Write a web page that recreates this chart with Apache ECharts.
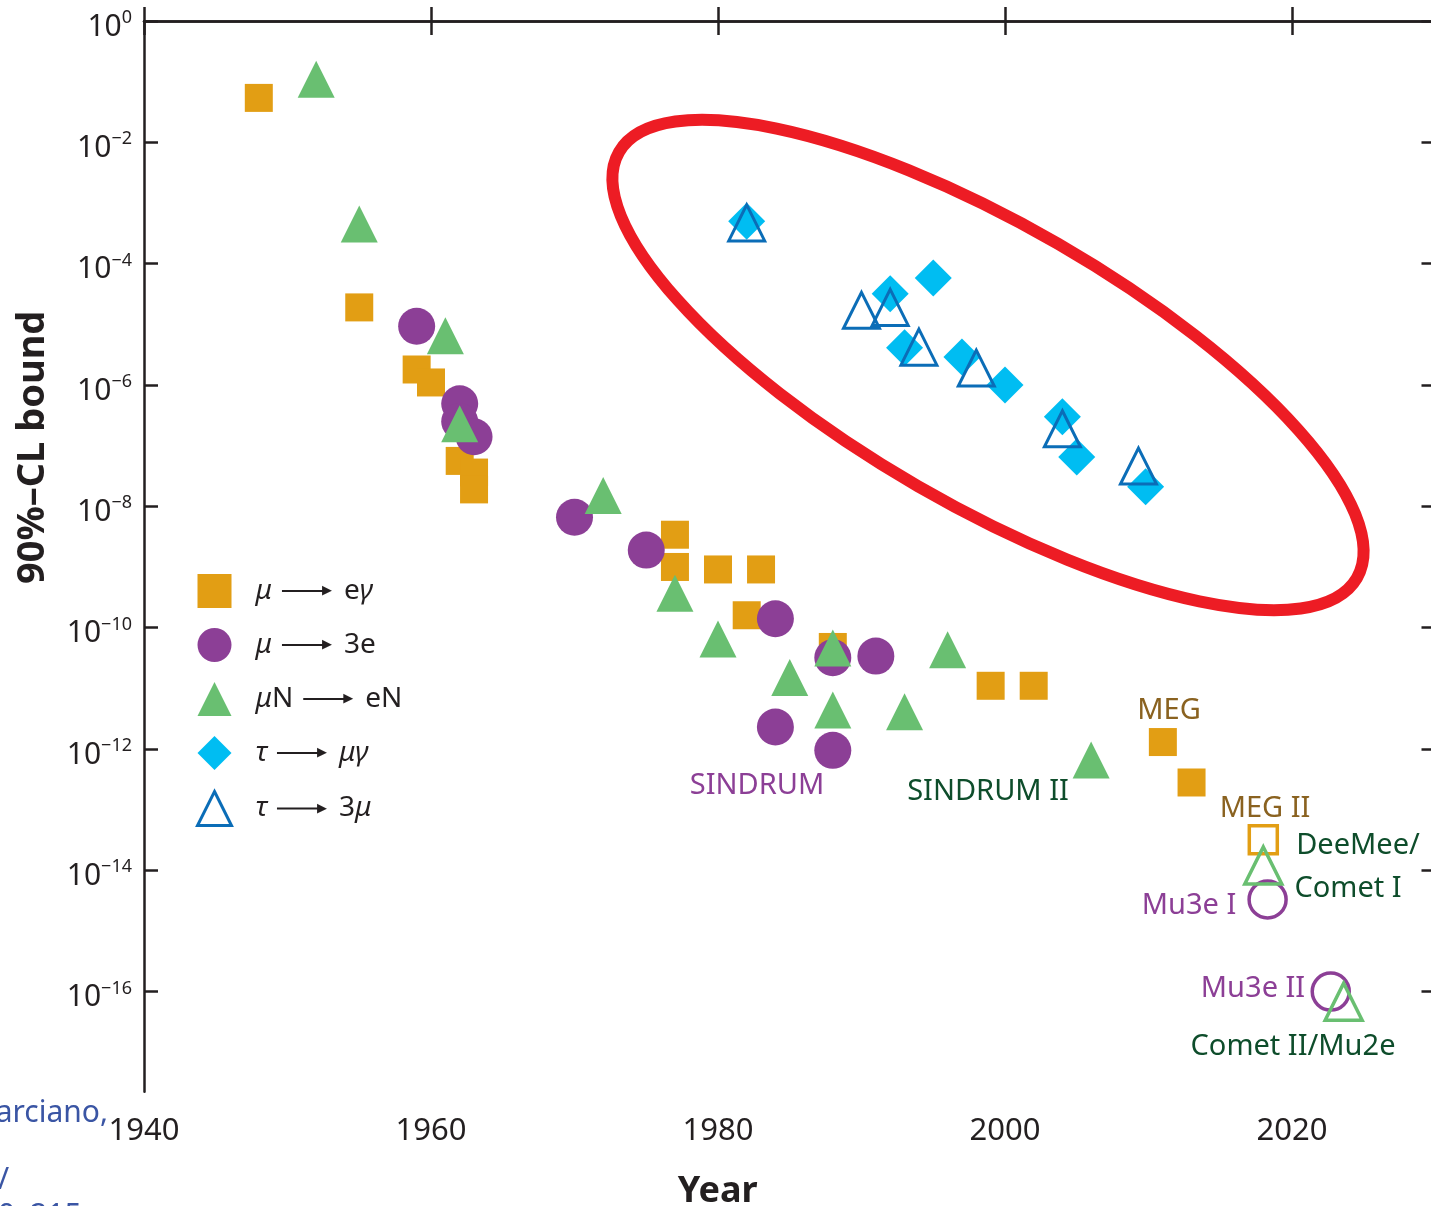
<!DOCTYPE html>
<html>
<head>
<meta charset="utf-8">
<title>LFV bounds</title>
<script src="https://cdn.jsdelivr.net/npm/echarts@6/dist/echarts.min.js"></script>
<style>
  html, body { margin: 0; padding: 0; background: #fff; }
  #chart { width: 1431px; height: 1206px; }
</style>
</head>
<body>
<div id="chart"></div>
<script>
// data: year + 90% CL bound
const muEgYears  = [1948, 1955, 1959, 1960, 1962, 1963, 1963, 1977, 1977, 1980, 1983, 1982, 1988, 1999, 2002, 2011, 2013]
const muEgBounds = [5.4e-2, 1.9e-5, 1.8e-6, 1.1e-6, 5.6e-8, 3.6e-8, 1.9e-8, 3.4e-9, 1.0e-9, 9.1e-10, 9.1e-10, 1.6e-10, 4.8e-11, 1.1e-11, 1.1e-11, 1.3e-12, 2.8e-13]

const mu3eYears  = [1959, 1962, 1962, 1963, 1970, 1975, 1984, 1988, 1991, 1984, 1988]
const mu3eBounds = [9.3e-6, 4.9e-7, 2.5e-7, 1.4e-7, 6.6e-9, 1.9e-9, 1.4e-10, 3.2e-11, 3.4e-11, 2.3e-12, 9.5e-13]

const muNeNYears  = [1952, 1955, 1961, 1962, 1972, 1977, 1980, 1985, 1988, 1988, 1993, 1996, 2006]
const muNeNBounds = [1.1e-1, 4.5e-4, 6.5e-6, 2.3e-7, 1.5e-8, 3.7e-10, 6.5e-11, 1.5e-11, 4.6e-11, 4.4e-12, 4.1e-12, 4.3e-11, 6.6e-13]

const tauMugYears  = [1982, 1992, 1995, 1993, 1997, 2000, 2004, 2005, 2009.8]
const tauMugBounds = [5.0e-4, 3.2e-5, 5.8e-5, 4.1e-6, 2.9e-6, 1.0e-6, 3.0e-7, 6.5e-8, 2.1e-8]

const tau3muYears  = [1982, 1990, 1992, 1994, 1998, 2004, 2009.3]
const tau3muBounds = [4.7e-4, 1.7e-5, 1.9e-5, 4.2e-6, 1.9e-6, 1.9e-7, 4.6e-8]

// projected sensitivities (open symbols)
const megIIYears = [2018]
const megIIBounds = [3.2e-14]
const mu3eFutYears = [2018.3, 2022.7]
const mu3eFutBounds = [3.3e-15, 1.0e-16]
const cometFutYears = [2018, 2023.6]
const cometFutBounds = [1.2e-14, 6.8e-17]

const yTicks = [0, -2, -4, -6, -8, -10, -12, -14, -16]

const FONT = 'Noto Sans'
const INK = '#231F20'
const ORANGE = '#E29E14'
const PURPLE = '#8C3F96'
const GREEN = '#69BF71'
const CYAN = '#00BDF2'
const BLUE = '#0B6DB7'

function pts (years, bounds) {
  return years.map((y, i) => [y, Math.log10(bounds[i])])
}

const legendText = {
  'μ → eγ': '{i|μ}{gap| }{ln| }{hd|▶}{gap2| }{n|e}{i|γ}',
  'μ → 3e': '{i|μ}{gap| }{ln| }{hd|▶}{gap2| }{n|3e}',
  'μN → eN': '{i|μ}{n|N}{gap| }{ln| }{hd|▶}{gap2| }{n|eN}',
  'τ → μγ': '{i|τ}{gap| }{ln| }{hd|▶}{gap2| }{i|μγ}',
  'τ → 3μ': '{i|τ}{gap| }{ln| }{hd|▶}{gap2| }{n|3}{i|μ}'
}

let chart = echarts.init(document.getElementById('chart'))

function axisCommon () {
  return {
    axisLine: { show: true, lineStyle: { color: INK, width: 2.5 } },
    axisTick: { show: true, inside: true, length: 14, lineStyle: { color: INK, width: 2.5 } },
    splitLine: { show: false }
  }
}

chart.setOption({
  animation: false,
  backgroundColor: '#fff',
  grid: { left: 144, top: 21, width: 1291.5, height: 1070.7, outerBoundsMode: 'none', containLabel: false },
  xAxis: [
    Object.assign(axisCommon(), {
      type: 'value',
      position: 'bottom',
      min: 1940,
      max: 2030,
      interval: 20,
      name: 'Year',
      nameLocation: 'middle',
      nameGap: 82,
      nameTextStyle: { fontFamily: FONT, fontSize: 36, fontWeight: 'bold', color: INK, padding: [0, 144, 0, 0] },
      axisLabel: {
        margin: 24,
        fontFamily: FONT,
        fontSize: 31,
        color: INK,
        formatter: v => (v % 20 === 0 && v <= 2020) ? String(v) : ''
      }
    }),
    Object.assign(axisCommon(), {
      type: 'value',
      position: 'top',
      min: 1940,
      max: 2030,
      interval: 20,
      axisLabel: { show: false }
    })
  ],
  yAxis: [
    Object.assign(axisCommon(), {
      type: 'value',
      position: 'left',
      min: -17.65,
      max: 0,
      name: '90%–CL bound',
      nameLocation: 'middle',
      nameGap: 92,
      nameTextStyle: { fontFamily: FONT, fontSize: 38, fontWeight: 'bold', color: INK, padding: [0, 0, 0, 218] },
      axisTick: { show: true, inside: true, length: 14, customValues: yTicks, lineStyle: { color: INK, width: 2.5 } },
      axisLabel: {
        margin: 12,
        customValues: yTicks,
        padding: [12, 0, 0, 0],
        formatter: v => {
          const n = Math.round(v)
          return '{b|10}{s|' + (n === 0 ? '0' : '−' + (-n)) + '}'
        },
        rich: {
          b: { fontFamily: FONT, fontSize: 30, lineHeight: 36, color: INK },
          s: { fontFamily: FONT, fontSize: 18, lineHeight: 20, verticalAlign: 'top', color: INK }
        }
      }
    }),
    Object.assign(axisCommon(), {
      type: 'value',
      position: 'right',
      min: -17.65,
      max: 0,
      axisTick: { show: true, inside: true, length: 14, customValues: yTicks, lineStyle: { color: INK, width: 2.5 } },
      axisLabel: { show: false }
    })
  ],
  legend: {
    left: 191,
    top: 569,
    orient: 'vertical',
    itemWidth: 34,
    itemHeight: 34,
    itemGap: 20,
    data: [
      { name: 'μ → eγ' },
      { name: 'μ → 3e' },
      { name: 'μN → eN' },
      { name: 'τ → μγ' },
      { name: 'τ → 3μ', itemStyle: { borderWidth: 3, borderColor: BLUE, color: 'rgba(0,0,0,0)' } }
    ],
    formatter: name => legendText[name],
    textStyle: {
      padding: [0, 0, 0, 19],
      lineHeight: 34,
      rich: {
        i: { fontFamily: FONT, fontSize: 28, fontStyle: 'italic', color: INK },
        n: { fontFamily: FONT, fontSize: 28, color: INK },
        gap: { width: 10 },
        gap2: { width: 12 },
        ln: { width: 42, height: 2, backgroundColor: INK },
        hd: { fontFamily: 'DejaVu Sans', fontSize: 13, color: INK, padding: [0, 0, 0, -2] }
      }
    }
  },
  series: [
    {
      name: 'μ → eγ', type: 'scatter', symbol: 'rect', symbolSize: 28,
      itemStyle: { color: ORANGE, opacity: 1 },
      data: pts(muEgYears, muEgBounds)
    },
    {
      name: 'μ → 3e', type: 'scatter', symbol: 'circle', symbolSize: 37,
      itemStyle: { color: PURPLE, opacity: 1 },
      data: pts(mu3eYears, mu3eBounds)
    },
    {
      name: 'μN → eN', type: 'scatter', symbol: 'triangle', symbolSize: 37,
      itemStyle: { color: GREEN, opacity: 1 },
      data: pts(muNeNYears, muNeNBounds)
    },
    {
      name: 'τ → μγ', type: 'scatter', symbol: 'diamond', symbolSize: 37,
      itemStyle: { color: CYAN, opacity: 1 },
      data: pts(tauMugYears, tauMugBounds)
    },
    {
      name: 'τ → 3μ', type: 'scatter', symbol: 'triangle', symbolSize: 36,
      itemStyle: { color: 'rgba(0,0,0,0)', borderColor: BLUE, borderWidth: 3, opacity: 1 },
      data: pts(tau3muYears, tau3muBounds)
    },
    {
      name: 'MEG II', type: 'scatter', symbol: 'rect', symbolSize: 28,
      itemStyle: { color: 'rgba(0,0,0,0)', borderColor: ORANGE, borderWidth: 3.5, opacity: 1 },
      data: pts(megIIYears, megIIBounds)
    },
    {
      name: 'Mu3e', type: 'scatter', symbol: 'circle', symbolSize: 37,
      itemStyle: { color: 'rgba(0,0,0,0)', borderColor: PURPLE, borderWidth: 3.5, opacity: 1 },
      data: pts(mu3eFutYears, mu3eFutBounds)
    },
    {
      name: 'Comet/Mu2e', type: 'scatter', symbol: 'triangle', symbolSize: 37,
      itemStyle: { color: 'rgba(0,0,0,0)', borderColor: GREEN, borderWidth: 3.5, opacity: 1 },
      data: pts(cometFutYears, cometFutBounds)
    }
  ],
  graphic: [
    {
      type: 'ellipse', x: 988, y: 365, rotation: -Math.PI / 6, z: 100,
      shape: { cx: 0, cy: 0, rx: 426, ry: 140 },
      style: { fill: 'none', stroke: '#ED1C24', lineWidth: 12 }
    },
    { type: 'text', x: 1169, y: 711, style: { text: 'MEG', fill: '#8A6220', fontFamily: FONT, fontSize: 29, align: 'center', verticalAlign: 'middle' } },
    { type: 'text', x: 1265, y: 809, style: { text: 'MEG II', fill: '#8A6220', fontFamily: FONT, fontSize: 29, align: 'center', verticalAlign: 'middle' } },
    { type: 'text', x: 1358, y: 846, style: { text: 'DeeMee/', fill: '#0E4D2B', fontFamily: FONT, fontSize: 29, align: 'center', verticalAlign: 'middle' } },
    { type: 'text', x: 1348, y: 889, style: { text: 'Comet I', fill: '#0E4D2B', fontFamily: FONT, fontSize: 29, align: 'center', verticalAlign: 'middle' } },
    { type: 'text', x: 1189, y: 906, style: { text: 'Mu3e I', fill: PURPLE, fontFamily: FONT, fontSize: 29, align: 'center', verticalAlign: 'middle' } },
    { type: 'text', x: 1253, y: 989, style: { text: 'Mu3e II', fill: PURPLE, fontFamily: FONT, fontSize: 29, align: 'center', verticalAlign: 'middle' } },
    { type: 'text', x: 1293, y: 1047, style: { text: 'Comet II/Mu2e', fill: '#0E4D2B', fontFamily: FONT, fontSize: 29, align: 'center', verticalAlign: 'middle' } },
    { type: 'text', x: 757, y: 786, style: { text: 'SINDRUM', fill: PURPLE, fontFamily: FONT, fontSize: 29, align: 'center', verticalAlign: 'middle' } },
    { type: 'text', x: 988, y: 792, style: { text: 'SINDRUM II', fill: '#0E4D2B', fontFamily: FONT, fontSize: 29, align: 'center', verticalAlign: 'middle' } },
    // citation remnants at the left edge
    { type: 'text', x: 108, y: 1113, style: { text: 'arciano,', fill: '#3A55A4', fontFamily: FONT, fontSize: 30, align: 'right', verticalAlign: 'middle' } },
    { type: 'text', x: -2, y: 1180, style: { text: '/', fill: '#3A55A4', fontFamily: FONT, fontSize: 30, align: 'left', verticalAlign: 'middle' } },
    { type: 'text', x: -2, y: 1216, style: { text: '0–215', fill: '#3A55A4', fontFamily: FONT, fontSize: 30, align: 'left', verticalAlign: 'middle' } }
  ]
})
</script>
</body>
</html>
